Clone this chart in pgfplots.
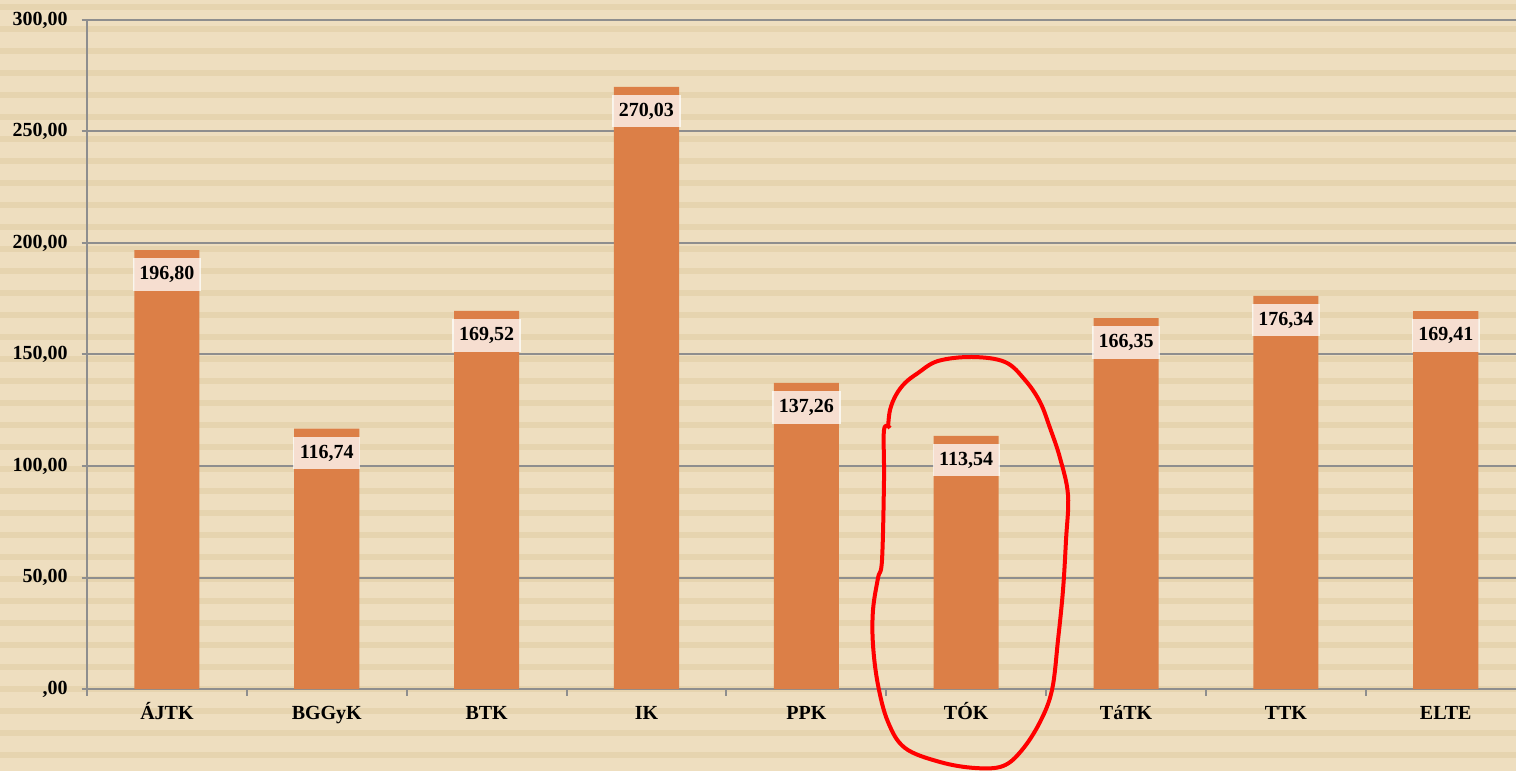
\documentclass[border=0pt]{standalone}
\usepackage{fontspec}
\setmainfont{Liberation Serif}
\usepackage{pgfplots}
\pgfplotsset{compat=1.18}

\definecolor{bg}{HTML}{EEDEBF}
\definecolor{stripe}{HTML}{E6D4AF}
\definecolor{bar}{HTML}{DC7F47}
\definecolor{gridc}{HTML}{8E8E8E}

\begin{document}
\begin{tikzpicture}
% background, 1px = 0.75pt
\fill[bg] (0,0) rectangle (1137pt,578.25pt);
\begin{scope}[shift={(0pt,578.25pt)}, x=0.75pt, y=-0.75pt]
  \foreach \i in {0,...,35} {
    \fill[stripe] (0,{4+22*\i}) rectangle (1516,{10+22*\i});
  }
\end{scope}

\begin{axis}[
    at={(65.25pt,61.5pt)}, anchor=south west,
    scale only axis,
    width=1071.75pt, height=501.75pt,
    xmin=-0.5, xmax=8.44,
    ymin=0, ymax=300,
    axis x line*=bottom, axis y line*=left,
    axis line style={draw=gridc, line width=1.5pt, -},
    ytick={0,50,...,300},
    yticklabels={{,00},{50,00},{100,00},{150,00},{200,00},{250,00},{300,00}},
    ymajorgrids,
    grid style={draw=gridc, line width=1.5pt},
    xtick={0,...,8},
    xticklabels={ÁJTK,BGGyK,BTK,IK,PPK,TÓK,TáTK,TTK,ELTE},
    minor xtick={-0.5,0.5,...,7.5},
    tick align=outside,
    major tick length=4pt,
    minor tick length=5pt,
    y tick style={draw=gridc, line width=1.5pt},
    major x tick style={draw=none},
    minor x tick style={draw=gridc, line width=1.5pt},
    ticklabel style={font=\fontsize{15}{17}\selectfont\bfseries},
    yticklabel style={xshift=-7pt},
    xticklabel style={text height=11pt, text depth=3pt, yshift=-4pt},
    ybar, bar width=0.407,
    nodes near coords,
    /pgf/number format/fixed,
    /pgf/number format/fixed zerofill,
    /pgf/number format/precision=2,
    /pgf/number format/use comma,
    /pgf/number format/assume math mode=true,
    every node near coord/.append style={anchor=north, yshift=-6pt,
      font=\fontsize{15}{17}\selectfont\bfseries,
      fill=white, fill opacity=0.75, text opacity=1, inner xsep=5pt, inner ysep=6pt},
  ]
  \addplot[fill=bar, draw=none] coordinates {
    (0,196.80) (1,116.74) (2,169.52) (3,270.03) (4,137.26)
    (5,113.54) (6,166.35) (7,176.34) (8,169.41)
  };
\end{axis}

% hand-drawn red loop round TOK
\begin{scope}[shift={(0pt,578.25pt)}, x=0.75pt, y=-0.75pt]
  \draw[red, line width=3pt, line join=round]
    plot[smooth, tension=0.6] coordinates {
      (890,428) (884,430) (884,480) (882,560) (878,578) (873,610) (873,645) (878,685)
      (888,722) (905,748) (940,762) (975,768) (1003,766) (1022,750) (1040,722)
      (1052,690) (1058,640) (1063,590) (1066,540) (1068,495) (1060,458)
      (1050,428) (1040,402) (1025,380) (1005,362) (972,357) (938,361)
      (918,373) (905,383) (896,395) (890,410) (888,428)
    };
\end{scope}

\pgfresetboundingbox
\useasboundingbox (0,0) rectangle (1137pt,578.25pt);
\end{tikzpicture}
\end{document}
